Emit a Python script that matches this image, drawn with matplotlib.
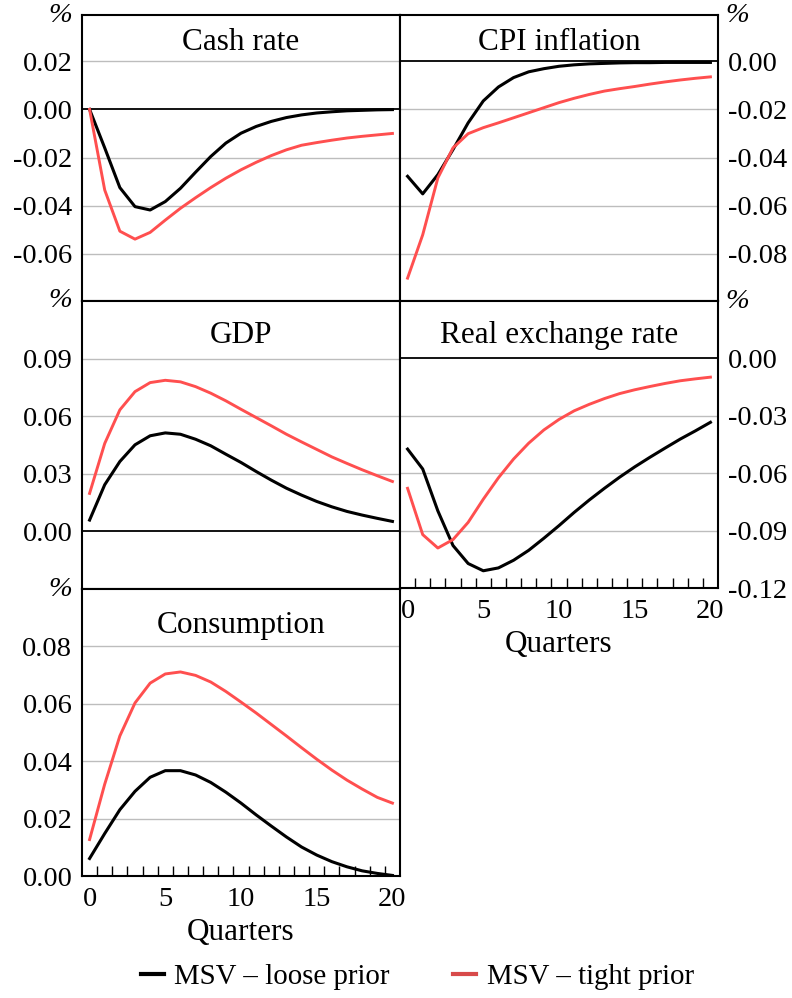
import matplotlib
matplotlib.use("Agg")
import matplotlib.pyplot as plt
from matplotlib.lines import Line2D
from matplotlib.ticker import FixedLocator
import numpy as np

plt.rcParams['font.family'] = ['Liberation Serif', 'DejaVu Serif']

quarters = list(range(21))

cash_loose = [0.0, -0.016, -0.0325, -0.0404, -0.0418, -0.0383, -0.0328, -0.0261, -0.0196, -0.014,
              -0.0099, -0.0071, -0.005, -0.0034, -0.0023, -0.0015, -0.001, -0.0006, -0.0004, -0.0002, -0.0001]
cash_tight = [0.0, -0.0335, -0.0506, -0.0539, -0.0511, -0.046, -0.0411, -0.0367, -0.0325, -0.0286,
              -0.0251, -0.022, -0.0192, -0.0168, -0.0149, -0.0138, -0.0128, -0.0119, -0.0112, -0.0106, -0.0100]

cpi_loose = [-0.0478, -0.0551, -0.0471, -0.0367, -0.0256, -0.0165, -0.0107, -0.0068, -0.0044, -0.0031,
             -0.0021, -0.0015, -0.0011, -0.0009, -0.0007, -0.0006, -0.0006, -0.0005, -0.0005, -0.0005, -0.0005]
cpi_tight = [-0.0901, -0.0721, -0.0485, -0.036, -0.0301, -0.0276, -0.0256, -0.0235, -0.0214, -0.0193,
             -0.0172, -0.0154, -0.0138, -0.0124, -0.0114, -0.0105, -0.0095, -0.0086, -0.0078, -0.0071, -0.0065]

gdp_loose = [0.0059, 0.0243, 0.0364, 0.0451, 0.0498, 0.0513, 0.0506, 0.048, 0.0446, 0.0402,
             0.0359, 0.0312, 0.0267, 0.0225, 0.0189, 0.0156, 0.0128, 0.0104, 0.0085, 0.0068, 0.0052]
gdp_tight = [0.0198, 0.0458, 0.0633, 0.0728, 0.0775, 0.0787, 0.0779, 0.0754, 0.072, 0.068,
             0.0636, 0.0593, 0.055, 0.0506, 0.0466, 0.0427, 0.0388, 0.0354, 0.0321, 0.029, 0.026]

rer_loose = [-0.0474, -0.0578, -0.0797, -0.0978, -0.1072, -0.111, -0.1095, -0.1055, -0.1003, -0.094,
             -0.0874, -0.0805, -0.074, -0.0679, -0.0621, -0.0567, -0.0517, -0.0469, -0.0422, -0.0379, -0.0334]
rer_tight = [-0.0679, -0.0921, -0.0991, -0.0947, -0.0857, -0.0736, -0.0624, -0.0526, -0.0443, -0.0374,
             -0.0319, -0.0274, -0.024, -0.021, -0.0184, -0.0164, -0.0147, -0.0131, -0.0117, -0.0107, -0.0098]

cons_loose = [0.0061, 0.0148, 0.0231, 0.0295, 0.0344, 0.0367, 0.0367, 0.0352, 0.0326, 0.0292,
              0.0254, 0.0213, 0.0174, 0.0136, 0.0101, 0.0073, 0.005, 0.0032, 0.0018, 0.0009, 0.0002]
cons_tight = [0.0127, 0.032, 0.0488, 0.0603, 0.0672, 0.0704, 0.0711, 0.0699, 0.0676, 0.0643,
              0.0606, 0.0568, 0.0528, 0.0488, 0.0447, 0.0407, 0.0369, 0.0334, 0.0303, 0.0274, 0.0254]

x_tick_labels = ['0', '5', '10', '15', '20']
series_labels = ['MSV – loose prior', 'MSV – tight prior']

BLACK = '#000000'
RED = '#ff4f4f'
RED_LEG = '#d84a4a'
GRID = '#bdbdbd'

W, H = 792, 998
fig = plt.figure(figsize=(W / 100, H / 100), dpi=100)

TICK_FS = 20.5
TITLE_FS = 22.5


def px_axes(x0, y0, x1, y1):
    return fig.add_axes([x0 / W, 1 - y1 / H, (x1 - x0) / W, (y1 - y0) / H])


panels = [
    ('Cash rate', cash_loose, cash_tight, (82, 15, 400, 301), (-0.0796, 0.0392),
     [0.02, 0.0, -0.02, -0.04, -0.06], 'left', False, 50),
    ('CPI inflation', cpi_loose, cpi_tight, (400, 15, 718, 301), (-0.0996, 0.0192),
     [0.0, -0.02, -0.04, -0.06, -0.08], 'right', False, 50),
    ('GDP', gdp_loose, gdp_tight, (82, 301, 400, 589), (-0.03, 0.12),
     [0.09, 0.06, 0.03, 0.0], 'left', False, 343),
    ('Real exchange rate', rer_loose, rer_tight, (400, 301, 718, 588), (-0.12, 0.03),
     [0.0, -0.03, -0.06, -0.09, -0.12], 'right', True, 343),
    ('Consumption', cons_loose, cons_tight, (82, 589, 400, 876), (0.0, 0.10),
     [0.08, 0.06, 0.04, 0.02, 0.0], 'left', True, 633),
]

for title, loose, tight, box, ylim, yt, side, bottom, base in panels:
    x0, y0, x1, y1 = box
    ax = px_axes(x0, y0, x1, y1)
    ax.set_xlim(-0.5, 20.5)
    ax.set_ylim(*ylim)
    ax.set_yticks(yt)
    ax.set_yticklabels(['{:.2f}'.format(v).replace('-0.00', '0.00') for v in yt])
    ax.tick_params(axis='y', length=0, labelsize=TICK_FS, pad=7)
    if side == 'right':
        ax.yaxis.tick_right()
    for v in yt:
        if abs(v) < 1e-12:
            ax.axhline(v, color='black', lw=1.3, zorder=1)
        else:
            ax.axhline(v, color=GRID, lw=1.0, zorder=1)
    for s in ax.spines.values():
        s.set_linewidth(1.5)
        s.set_color('black')
    ax.plot(quarters, loose, color=BLACK, lw=2.2, zorder=3)
    ax.plot(quarters, tight, color=RED, lw=2.1, zorder=3)
    if bottom:
        ax.set_xticks([0, 5, 10, 15, 20])
        ax.set_xticklabels(x_tick_labels)
        ax.xaxis.set_minor_locator(FixedLocator(np.arange(0.5, 20.0, 1.0)))
        ax.tick_params(axis='x', which='major', length=0, labelsize=TICK_FS, pad=8)
        ax.tick_params(axis='x', which='minor', direction='in', length=7, width=1.0)
        ax.set_xlabel('Quarters', fontsize=TITLE_FS, labelpad=4)
    else:
        ax.set_xticks([])
    ax.text(0.5, (y1 - base) / (y1 - y0), title, transform=ax.transAxes,
            ha='center', va='baseline', fontsize=TITLE_FS)
    if side == 'left':
        ax.text(-10 / (x1 - x0), 1.0, '%', transform=ax.transAxes, ha='right', va='center',
                fontsize=TICK_FS, style='italic')
    else:
        ax.text(1 + 7 / (x1 - x0), 1.0, '%', transform=ax.transAxes, ha='left', va='center',
                fontsize=TICK_FS, style='italic')

handles = [Line2D([], [], color=BLACK, lw=3), Line2D([], [], color=RED_LEG, lw=3)]
fig.legend(handles, series_labels, loc='center', bbox_to_anchor=(0.527, 1 - 977 / H), ncol=2,
           frameon=False, fontsize=20.8, handlelength=0.8, handletextpad=0.35,
           columnspacing=2.2)

fig.savefig('out.png', dpi=100)
